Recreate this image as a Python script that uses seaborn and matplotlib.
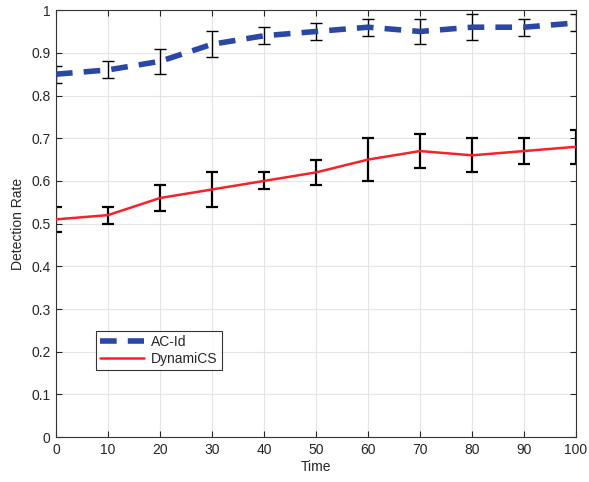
import matplotlib
matplotlib.use("Agg")
import matplotlib.pyplot as plt
import seaborn as sns
import pandas as pd
import numpy as np
from matplotlib.lines import Line2D

# Values
time = [0, 10, 20, 30, 40, 50, 60, 70, 80, 90, 100]
acid_rate = [0.85, 0.86, 0.88, 0.92, 0.94, 0.95, 0.96, 0.95, 0.96, 0.96, 0.97]
acid_err = [0.02, 0.02, 0.03, 0.03, 0.02, 0.02, 0.02, 0.03, 0.03, 0.02, 0.02]
dyn_rate = [0.51, 0.52, 0.56, 0.58, 0.60, 0.62, 0.65, 0.67, 0.66, 0.67, 0.68]
dyn_err = [0.03, 0.02, 0.03, 0.04, 0.02, 0.03, 0.05, 0.04, 0.04, 0.03, 0.04]

df = pd.DataFrame({
    "Time": time * 2,
    "Rate": acid_rate + dyn_rate,
    "Method": ["AC-Id"] * len(time) + ["DynamiCS"] * len(time),
})

sns.set_theme(style="whitegrid")
plt.rcParams["font.family"] = ["Liberation Sans", "DejaVu Sans"]

fig = plt.figure(figsize=(5.89, 4.82), dpi=100)
ax = fig.add_axes([0.095, 0.093, 0.883, 0.886])

blue = "#2B47A6"
red = "#F5222A"

# error bars first so the lines sit on top
ax.errorbar(time, acid_rate, yerr=acid_err, fmt="none", ecolor="black",
            elinewidth=1.0, capsize=4, capthick=1.0, zorder=2)
ax.errorbar(time, dyn_rate, yerr=dyn_err, fmt="none", ecolor="black",
            elinewidth=1.6, capsize=4, capthick=1.6, zorder=2)

sns.lineplot(data=df, x="Time", y="Rate", hue="Method", style="Method",
             palette={"AC-Id": blue, "DynamiCS": red},
             dashes={"AC-Id": (3, 2), "DynamiCS": ""},
             size="Method", sizes={"AC-Id": 4.0, "DynamiCS": 1.8},
             ax=ax, zorder=3, legend=False)

handles = [Line2D([], [], color=blue, lw=4.0, dashes=(3, 2)),
           Line2D([], [], color=red, lw=1.8)]
leg = ax.legend(handles, ["AC-Id", "DynamiCS"], loc="lower left",
                bbox_to_anchor=(0.063, 0.14), fontsize=10, frameon=True,
                fancybox=False, borderpad=0.3, handlelength=3.2,
                labelspacing=0.25, handletextpad=0.5)
leg.get_frame().set_edgecolor("black")
leg.get_frame().set_linewidth(0.8)

ax.set_xlim(0, 100)
ax.set_ylim(0, 1)
ax.set_xticks(np.arange(0, 101, 10))
ax.set_yticks(np.arange(0, 1.01, 0.1))
ax.set_yticklabels(["0", "0.1", "0.2", "0.3", "0.4", "0.5", "0.6",
                    "0.7", "0.8", "0.9", "1"])
ax.set_xlabel("Time", fontsize=10, labelpad=2)
ax.set_ylabel("Detection Rate", fontsize=10, labelpad=4)

ax.grid(True, color="#E4E4E4", linewidth=0.8)
ax.set_facecolor("white")
for s in ax.spines.values():
    s.set_color("#333333")
    s.set_linewidth(0.8)
ax.tick_params(direction="in", length=4, width=0.8, colors="#262626",
               labelsize=10, top=True, right=True, bottom=True, left=True,
               pad=4)

fig.savefig("out.png", dpi=100)
